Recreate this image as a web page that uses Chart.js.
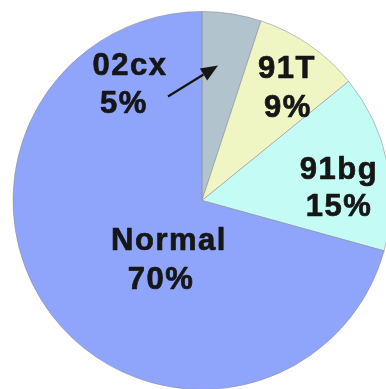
<!DOCTYPE html>
<html>
<head>
<meta charset="utf-8">
<script src="https://cdn.jsdelivr.net/npm/chart.js@4.4.1/dist/chart.umd.min.js"></script>
<style>
  html, body { margin: 0; padding: 0; background: #ffffff; overflow: hidden; width: 386px; height: 389px; }
  #wrap { position: absolute; left: 0; top: 0; width: 404px; height: 402px; }
</style>
</head>
<body>
<div id="wrap"><canvas id="pie" width="404" height="402"></canvas></div>
<script>
// Share of supernova types
const categories = ['02cx', '91T', '91bg', 'Normal'];
const shares = [5, 9, 15, 70];
const sliceColors = ['#b1c3cc', '#f0f5c4', '#c4fbf4', '#8fa5fb'];

// Label anchors (offsets from the pie centre, px) for each category's two text lines
const labelSpots = {
  '02cx':   [[-73, -126], [-79, -88]],
  '91T':    [[84, -123], [85, -84]],
  '91bg':   [[136, -22], [136, 15]],
  'Normal': [[-34, 49], [-42, 88]]
};

const pieLabels = {
  id: 'pieLabels',
  afterDatasetsDraw(chart) {
    const ctx = chart.ctx;
    const arc = chart.getDatasetMeta(0).data[0];
    const cx = arc.x, cy = arc.y;
    ctx.save();
    ctx.fillStyle = '#161616';
    ctx.strokeStyle = '#161616';
    ctx.lineWidth = 0.7;
    ctx.lineJoin = 'round';
    ctx.font = 'bold 31px "Liberation Sans", Arial, sans-serif';
    ctx.textAlign = 'center';
    ctx.textBaseline = 'alphabetic';
    if ('letterSpacing' in ctx) ctx.letterSpacing = '1.5px';
    categories.forEach((name, i) => {
      const spots = labelSpots[name];
      const lines = [name, shares[i] + '%'];
      lines.forEach((t, k) => {
        const x = cx + spots[k][0] + 1, y = cy + spots[k][1];
        ctx.fillText(t, x, y);
        ctx.strokeText(t, x, y);
      });
    });
    // pointer from the 02cx label into its slice
    const x0 = cx - 34, y0 = cy - 104;
    const x1 = cx + 16, y1 = cy - 135;
    const ang = Math.atan2(y1 - y0, x1 - x0);
    const headLen = 17, headW = 7;
    const bx = x1 - headLen * Math.cos(ang), by = y1 - headLen * Math.sin(ang);
    ctx.lineWidth = 2.2;
    ctx.beginPath();
    ctx.moveTo(x0, y0);
    ctx.lineTo(bx, by);
    ctx.stroke();
    ctx.beginPath();
    ctx.moveTo(x1, y1);
    ctx.lineTo(bx + headW * Math.sin(ang), by - headW * Math.cos(ang));
    ctx.lineTo(bx - headW * Math.sin(ang), by + headW * Math.cos(ang));
    ctx.closePath();
    ctx.fill();
    ctx.restore();
  }
};

new Chart(document.getElementById('pie'), {
  type: 'pie',
  data: {
    labels: categories,
    datasets: [{
      data: shares,
      backgroundColor: sliceColors,
      borderColor: 'rgba(140,140,150,0.55)',
      borderWidth: 1
    }]
  },
  options: {
    responsive: false,
    animation: false,
    devicePixelRatio: 1,
    layout: { padding: { left: 12, right: 12, top: 11, bottom: 12 } },
    plugins: {
      legend: { display: false },
      tooltip: { enabled: false }
    }
  },
  plugins: [pieLabels]
});
</script>
</body>
</html>
